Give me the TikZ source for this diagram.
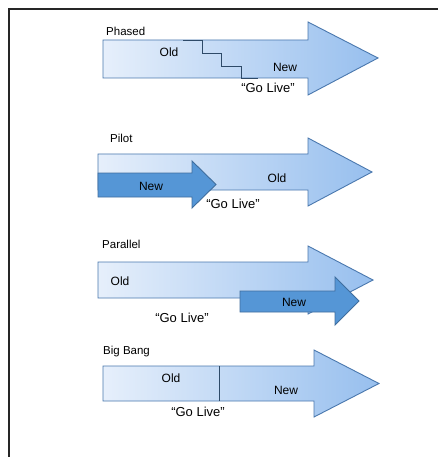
\documentclass[tikz,border=0pt]{standalone}
\usepackage{fontspec}
\setmainfont{Liberation Sans}
\begin{document}
\begin{tikzpicture}[x=1pt,y=-1pt,
  lightarrow/.style={left color=arrowL,right color=arrowR,draw=arrowline,line width=0.9pt,line join=miter},
  darkarrow/.style={fill=darkfill,draw=darkline,line width=0.9pt,line join=miter},
  divider/.style={draw=divline,line width=0.9pt},
  lbl/.style={font=\fontsize{12}{13}\selectfont,inner sep=0pt,text=black},
  title/.style={font=\fontsize{11.5}{12}\selectfont,inner sep=0pt,anchor=west,text=black},
  golive/.style={font=\fontsize{13}{14}\selectfont,inner sep=0pt,text=black},
  frameline/.style={draw=black!85,line width=1.5pt}]
\definecolor{arrowL}{HTML}{E6EFFB}
\definecolor{arrowR}{HTML}{97BFEE}
\definecolor{arrowline}{HTML}{4A78AE}
\definecolor{darkfill}{HTML}{5596D6}
\definecolor{darkline}{HTML}{3F6E9E}
\definecolor{divline}{HTML}{2E4A68}
\useasboundingbox (0,0) rectangle (438,457);
\fill[white] (0,0) rectangle (438,457);
% frame
\coordinate (fc) at (9,9);
\coordinate (fr) at (438,9);
\coordinate (fb) at (9,457);
\draw[frameline] (fr) -- (fc) -- (fb);

% Phased
\shade[lightarrow] (103,40) -- (308,40) -- (308,22) -- (378,58) -- (308,95) -- (308,78) -- (103,78) -- cycle;
\coordinate (s0) at (183,40);
\coordinate (s1) at (202,40);
\coordinate (s2) at (202,53);
\coordinate (s3) at (221,53);
\coordinate (s4) at (221,66);
\coordinate (s5) at (241,66);
\coordinate (s6) at (241,78);
\coordinate (s7) at (258,78);
\draw[divider] (s0) -- (s1) -- (s2) -- (s3) -- (s4) -- (s5) -- (s6) -- (s7);
\node[title] (phased) at (106,31) {Phased};
\node[lbl] (phOld) at (169,52) {Old};
\node[lbl] (phNew) at (285,67) {New};
\node[golive] (phGo) at (268,88) {“Go Live”};

% Pilot
\shade[lightarrow] (98,154) -- (308,154) -- (308,138) -- (372,172) -- (308,206) -- (308,190) -- (98,190) -- cycle;
\filldraw[darkarrow] (98,173) -- (192,173) -- (192,161) -- (216,184.5) -- (192,208) -- (192,197) -- (98,197) -- cycle;
\node[title] (pilot) at (110,138) {Pilot};
\node[lbl] (piNew) at (151,186) {New};
\node[lbl] (piOld) at (277,178) {Old};
\node[golive] (piGo) at (233,204) {“Go Live”};

% Parallel
\shade[lightarrow] (98,262) -- (308,262) -- (308,246) -- (373,280) -- (308,314) -- (308,298) -- (98,298) -- cycle;
\filldraw[darkarrow] (240,291) -- (335,291) -- (335,277) -- (359,301) -- (335,325) -- (335,312) -- (240,312) -- cycle;
\node[title] (parallel) at (102,244) {Parallel};
\node[lbl] (paOld) at (120,281) {Old};
\node[lbl] (paNew) at (294,302) {New};
\node[golive] (paGo) at (182,318) {“Go Live”};

% Big Bang
\shade[lightarrow] (103,366) -- (314,366) -- (314,350) -- (379,383.5) -- (314,417) -- (314,401) -- (103,401) -- cycle;
\coordinate (d0) at (219,366);
\coordinate (d1) at (219,401);
\draw[divider] (d0) -- (d1);
\node[title] (bigbang) at (103,352) {Big Bang};
\node[lbl] (bbOld) at (171,378) {Old};
\node[lbl] (bbNew) at (286,390) {New};
\node[golive] (bbGo) at (198,412) {“Go Live”};
\end{tikzpicture}
\end{document}
